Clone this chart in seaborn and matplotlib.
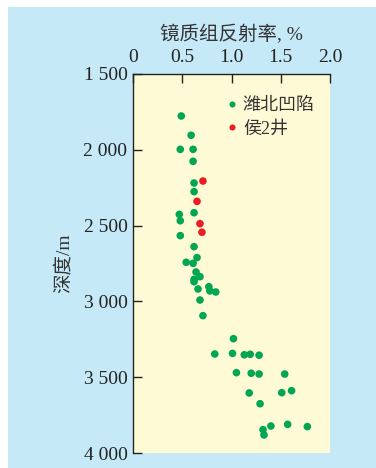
import numpy as np
import pandas as pd
import seaborn as sns
import matplotlib.pyplot as plt
from matplotlib.patches import Rectangle

# data
weibei_ro = [0.49, 0.59, 0.48, 0.61, 0.61, 0.62, 0.62, 0.62, 0.47, 0.48, 0.48, 0.62,
             0.65, 0.54, 0.61, 0.64, 0.68, 0.62, 0.62, 0.66, 0.77, 0.78, 0.84, 0.68,
             0.71, 1.02, 0.83, 1.01, 1.13, 1.19, 1.28, 1.05, 1.20, 1.28, 1.54, 1.18,
             1.51, 1.61, 1.29, 1.32, 1.40, 1.57, 1.77, 1.33]
weibei_depth = [1777, 1904, 1997, 1997, 2076, 2219, 2276, 2415, 2426, 2468, 2566, 2639,
                2711, 2742, 2749, 2806, 2837, 2855, 2870, 2918, 2903, 2931, 2938, 2991,
                3094, 3246, 3347, 3343, 3352, 3349, 3355, 3470, 3474, 3479, 3479, 3604,
                3602, 3589, 3675, 3846, 3822, 3811, 3826, 3881]
hou2_ro = [0.71, 0.65, 0.68, 0.70]
hou2_depth = [2206, 2340, 2487, 2544]

group_names = ['潍北凹陷', '侯2井']
group_colors = ['#00A651', '#ED1C24']

xticks = [0, 0.5, 1.0, 1.5, 2.0]
xlabels = ['0', '0.5', '1.0', '1.5', '2.0']
yticks = [1500, 2000, 2500, 3000, 3500, 4000]
ylabels = ['1 500', '2 000', '2 500', '3 000', '3 500', '4 000']

df = pd.DataFrame({
    'ro': weibei_ro + hou2_ro,
    'depth': weibei_depth + hou2_depth,
    'group': [group_names[0]] * len(weibei_ro) + [group_names[1]] * len(hou2_ro),
})

sns.set_style('ticks')
plt.rcParams['font.family'] = ['Liberation Serif', 'Noto Sans CJK SC']
plt.rcParams['axes.unicode_minus'] = False

fig = plt.figure(figsize=(3.76, 4.68), dpi=100)
fig.patch.set_facecolor('white')
fig.patches.append(Rectangle((8 / 376, 0), 1, 1 - 7 / 468, transform=fig.transFigure,
                             facecolor='#C6E9F8', edgecolor='none', zorder=-10))

ax = fig.add_axes([133 / 376, 1 - 453 / 468, 197 / 376, 379 / 468])
ax.set_facecolor('#FFFAD6')

sns.scatterplot(data=df, x='ro', y='depth', hue='group', hue_order=group_names,
                palette=group_colors, s=30, linewidth=0, ax=ax, zorder=3)

ax.set_xlim(0, 2.0)
ax.set_ylim(4000, 1500)
ax.xaxis.tick_top()
ax.xaxis.set_label_position('top')
ax.set_xticks(xticks)
ax.set_xticklabels(xlabels)
ax.set_yticks(yticks)
ax.set_yticklabels(ylabels)
ax.tick_params(direction='in', length=6.5, width=1, colors='#222222', labelsize=14)
ax.tick_params(axis='x', pad=6)
ax.tick_params(axis='y', pad=4)

for side in ['right', 'bottom']:
    ax.spines[side].set_visible(False)
for side in ['left', 'top']:
    ax.spines[side].set_linewidth(1)
    ax.spines[side].set_color('#222222')

ax.set_xlabel('镜质组反射率, %', fontsize=14, color='#333333', labelpad=6)
ax.set_ylabel('深度/m', fontsize=14, color='#333333', labelpad=8)

leg = ax.legend(loc='upper left', bbox_to_anchor=(0.42, 0.958), frameon=False,
                fontsize=13, handlelength=1, handletextpad=0.1, labelspacing=0.35,
                borderaxespad=0, markerscale=0.8)
for t in leg.get_texts():
    t.set_color('#333333')

fig.savefig('out.png', dpi=100)
